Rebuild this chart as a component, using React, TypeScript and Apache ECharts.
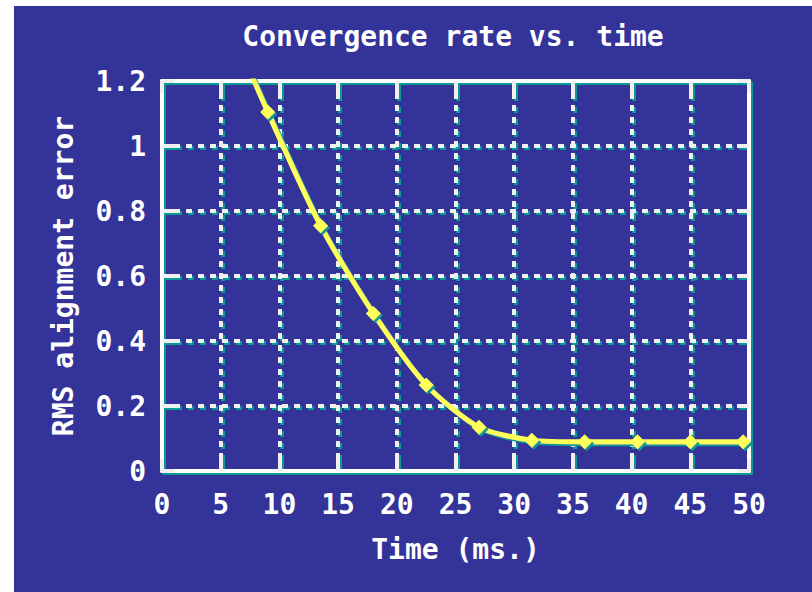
import React, { useEffect, useRef } from "react";
import * as echarts from "echarts";

const titleText = "Convergence rate vs. time";
const xAxisName = "Time (ms.)";
const yAxisName = "RMS alignment error";
const timeMs = [4.5, 9, 13.5, 18, 22.5, 27, 31.5, 36, 40.5, 45, 49.5];
const rmsError = [1.48, 1.105, 0.755, 0.485, 0.265, 0.135, 0.095, 0.09, 0.09, 0.09, 0.09];
const xMin = 0;
const xMax = 50;
const xStep = 5;
const yMin = 0;
const yMax = 1.2;
const yStep = 0.2;

const BLUE = "#333399";
const TEAL = "#0a9a94";
const WHITE = "#ffffff";
const SPLIT = "#f0f0f0";
const YELLOW = "#ffff5a";
const FONT = "DejaVu Sans Mono";

const textStyle = {
  color: WHITE,
  fontFamily: FONT,
  fontWeight: "bold" as const,
  fontSize: 28,
  textShadowColor: TEAL,
  textShadowOffsetX: 2,
  textShadowOffsetY: 2,
  textShadowBlur: 0,
};

const lineShadow = {
  shadowColor: TEAL,
  shadowOffsetX: 2,
  shadowOffsetY: 2,
  shadowBlur: 0,
};

function frameAxes(dim: "x" | "y", gridIndex: number, color: string, split: string, z: number, main: boolean) {
  const min = dim === "x" ? xMin : yMin;
  const max = dim === "x" ? xMax : yMax;
  const interval = dim === "x" ? xStep : yStep;
  const axisLine = { show: true, onZero: false, lineStyle: { color, width: 4 } };
  const axisTick = { show: true, inside: true, length: 12, lineStyle: { color: split, width: 4 } };
  const splitLine = { show: true, lineStyle: { color: split, width: 4, type: [6, 6] } };
  const first: any = {
    type: "value",
    gridIndex,
    min,
    max,
    interval,
    z,
    position: dim === "x" ? "bottom" : "left",
    axisLine,
    axisTick,
    splitLine,
    axisLabel: { show: false },
  };
  if (main) {
    if (dim === "x") {
      Object.assign(first, {
        axisLabel: { margin: 19, ...textStyle },
        name: xAxisName,
        nameLocation: "middle",
        nameGap: 64,
        nameTextStyle: { ...textStyle },
      });
    } else {
      Object.assign(first, {
        axisLabel: { margin: 16, ...textStyle },
        name: yAxisName,
        nameLocation: "middle",
        nameRotate: 90,
        nameGap: 85,
        nameTextStyle: { ...textStyle },
      });
    }
  }
  const second = {
    type: "value",
    gridIndex,
    min,
    max,
    interval,
    z,
    position: dim === "x" ? "top" : "right",
    axisLine,
    axisTick,
    splitLine: { show: false },
    axisLabel: { show: false },
  };
  return [first, second];
}

export default function App() {
  const ref = useRef<HTMLDivElement>(null);
  useEffect(() => {
    if (!ref.current) return;
    const chart = echarts.init(ref.current, null, { renderer: "svg" });
    chart.setOption({
      animation: false,
      backgroundColor: WHITE,
      graphic: [
        { type: "rect", z: -100, silent: true, shape: { x: 14, y: 6, width: 812 - 14, height: 592 - 6 }, style: { fill: BLUE } },
      ],
      title: {
        text: titleText,
        left: 453,
        top: 22,
        textAlign: "center",
        padding: 0,
        textStyle: { ...textStyle },
      },
      grid: [
        { left: 162, top: 81, width: 587, height: 390, containLabel: false },
        { left: 164, top: 83, width: 587, height: 390, containLabel: false },
      ],
      xAxis: [...frameAxes("x", 0, WHITE, SPLIT, 1, true), ...frameAxes("x", 1, TEAL, TEAL, 0, false)],
      yAxis: [...frameAxes("y", 0, WHITE, SPLIT, 1, true), ...frameAxes("y", 1, TEAL, TEAL, 0, false)],
      series: [
        {
          type: "line",
          xAxisIndex: 0,
          yAxisIndex: 0,
          z: 3,
          data: timeMs.map((t, i) => [t, rmsError[i]]),
          smooth: 0.25,
          clip: true,
          symbol: "diamond",
          symbolSize: 15,
          showSymbol: true,
          lineStyle: { color: YELLOW, width: 5, ...lineShadow },
          itemStyle: { color: YELLOW, ...lineShadow },
        },
      ],
    });
    return () => chart.dispose();
  }, []);
  return <div ref={ref} style={{ position: "absolute", left: 0, top: 0, width: 812, height: 592 }} />;
}
